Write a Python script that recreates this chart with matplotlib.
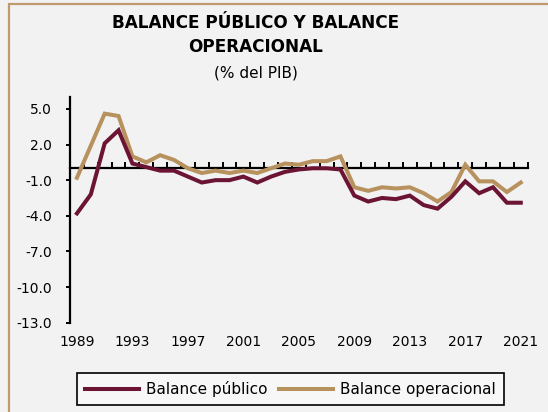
import matplotlib
matplotlib.use("Agg")
import matplotlib.pyplot as plt
from matplotlib.lines import Line2D
from matplotlib.patches import Rectangle
import numpy as np

years = list(range(1989, 2022))
balance_publico = [-3.8, -2.2, 2.1, 3.2, 0.4, 0.1, -0.2, -0.2, -0.7, -1.2, -1.0, -1.0,
                   -0.7, -1.2, -0.7, -0.3, -0.1, 0.0, 0.0, -0.1, -2.3, -2.8, -2.5, -2.6,
                   -2.3, -3.1, -3.4, -2.4, -1.1, -2.1, -1.6, -2.9, -2.9]
balance_operacional = [-0.8, 1.9, 4.6, 4.4, 1.0, 0.5, 1.1, 0.7, 0.0, -0.4, -0.2, -0.4,
                       -0.2, -0.4, 0.0, 0.4, 0.3, 0.6, 0.6, 1.0, -1.6, -1.9, -1.6, -1.7,
                       -1.6, -2.1, -2.8, -2.0, 0.3, -1.1, -1.1, -2.0, -1.2]
yticks = [5.0, 2.0, -1.0, -4.0, -7.0, -10.0, -13.0]
xlabels = list(range(1989, 2022, 4))

BG = "#f2f2f2"
MAROON = "#6b1434"
GOLD = "#b8925e"

plt.rcParams['font.family'] = ['DejaVu Sans']
fig = plt.figure(figsize=(5.48, 4.12), dpi=100, facecolor=BG)
ax = fig.add_axes([70/548, 1-322.7/412, (527.7-70)/548, (322.7-97)/412])
ax.set_facecolor(BG)

ax.plot(years, balance_publico, color=MAROON, lw=2.9, solid_joinstyle='miter', label="Balance público", zorder=3)
ax.plot(years, balance_operacional, color=GOLD, lw=2.9, solid_joinstyle='miter', label="Balance operacional", zorder=2)

ax.set_xlim(years[0]-0.5, years[-1]+0.5)
ax.set_ylim(-13, 6)

for s in ['top', 'right']:
    ax.spines[s].set_visible(False)
ax.spines['bottom'].set_position(('data', 0))
ax.spines['bottom'].set_linewidth(1.6)
ax.spines['left'].set_linewidth(1.6)
ax.spines['bottom'].set_zorder(1)

ax.set_xticks(np.arange(years[0]+0.5, years[-1]+0.6, 1.0))
ax.tick_params(axis='x', direction='in', length=4.5, width=1.4, labelbottom=False)
ax.set_yticks(yticks)
ax.set_yticklabels([f"{v:.1f}" for v in yticks])
ax.tick_params(axis='y', direction='out', length=3, width=1.4, labelsize=10, pad=10)

sec = ax.secondary_xaxis(0)
sec.set_xticks(xlabels)
sec.set_xticklabels([str(y) for y in xlabels])
sec.tick_params(length=0, labelsize=10, pad=9)
sec.spines['bottom'].set_visible(False)

fig.text(256/548, 1-23.5/412, "BALANCE PÚBLICO Y BALANCE", ha='center', va='center',
         fontsize=12.2, fontweight='bold')
fig.text(256/548, 1-47.5/412, "OPERACIONAL", ha='center', va='center',
         fontsize=12.2, fontweight='bold')
fig.text(256/548, 1-73/412, "(% del PIB)", ha='center', va='center', fontsize=11)

leg = fig.legend(handles=[Line2D([], [], color=MAROON, lw=2.9),
                          Line2D([], [], color=GOLD, lw=2.9)],
                 labels=["Balance público", "Balance operacional"],
                 loc='center', bbox_to_anchor=(290.5/548, 1-389/412), ncol=2,
                 fontsize=11, frameon=True, fancybox=False, edgecolor='black',
                 facecolor='#f7f7f7', framealpha=1, handlelength=3.5,
                 handletextpad=0.45, columnspacing=0.8, borderpad=0.55)
leg.get_frame().set_linewidth(1.2)

fig.patches.append(Rectangle((9/548, -0.1), 1.2, 1.1 - 4.5/412, transform=fig.transFigure,
                             fill=False, edgecolor="#c09a6c", lw=1.6))

fig.savefig("out.png", dpi=100, facecolor=BG)
